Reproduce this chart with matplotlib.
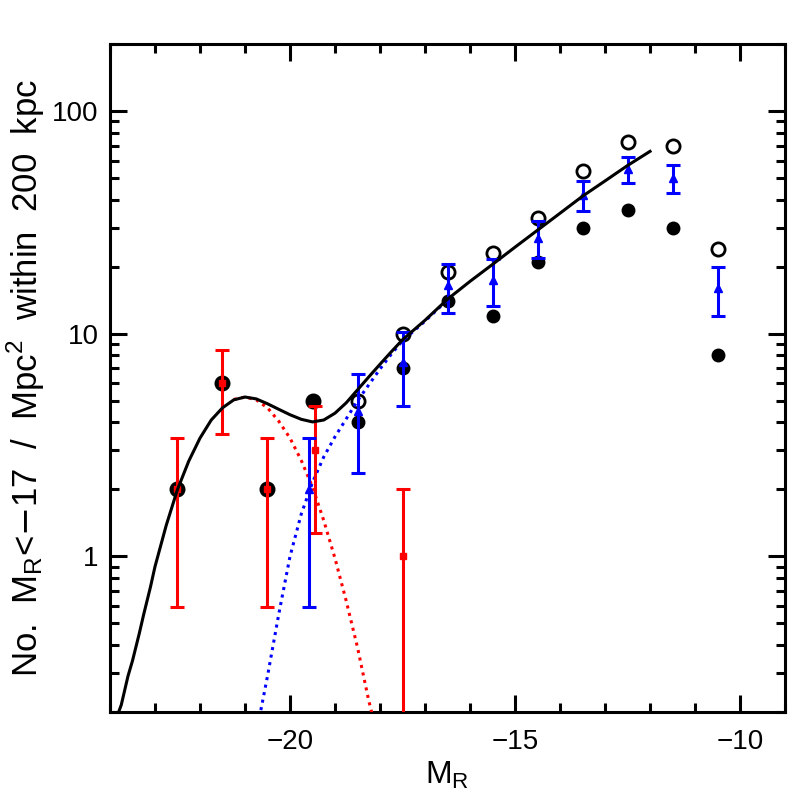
import matplotlib
matplotlib.use("Agg")
import matplotlib.pyplot as plt
from matplotlib.ticker import FixedLocator, MultipleLocator, LogLocator, NullFormatter, FuncFormatter

plt.rcParams['font.family'] = ['Liberation Sans', 'DejaVu Sans']

# counts per 1-mag bin
mag = [-22.5, -21.5, -20.5, -19.5, -18.5, -17.5, -16.5, -15.5, -14.5, -13.5, -12.5, -11.5, -10.5]
n_open = [2, 6, 2, 5, 5, 10, 19, 23, 33, 54, 73, 70, 24]
n_filled = [2, 6, 2, 5, 4, 7, 14, 12, 21, 30, 36, 30, 8]

# giants (red) and dwarfs (blue) with their errors
red_mag = [-22.5, -21.5, -20.5, -19.44, -17.5]
red_n = [2, 6, 2, 3, 1]
red_err = [1.41, 2.45, 1.41, 1.73, 1.0]

blue_mag = [-19.58, -18.5, -17.5, -16.5, -15.5, -14.5, -13.5, -12.5, -11.5, -10.5]
blue_n = [2, 4.5, 7.5, 16.5, 17.5, 27, 42, 55, 50, 16]
blue_err = [1.41, 2.12, 2.74, 4.06, 4.18, 5.2, 6.48, 7.42, 7.07, 4.0]

# fitted curves
fit_mag = [-23.85, -23.75, -23.6, -23.5, -23.35, -23.25, -23.1, -23.0, -22.75, -22.5,
           -22.25, -22.0, -21.75, -21.5, -21.25, -21.0, -20.75, -20.5, -20.25, -20.0,
           -19.75, -19.5, -19.25, -19.0, -18.75, -18.5, -18.25, -18.0, -17.75, -17.5,
           -17.25, -17.0, -16.5, -16.0, -15.5, -15.0, -14.5, -14.0, -13.5, -13.0,
           -12.5, -12.0]
fit_total = [0.19, 0.215, 0.29, 0.34, 0.45, 0.55, 0.73, 0.9, 1.38, 2.0,
             2.68, 3.4, 4.1, 4.65, 5.05, 5.2, 5.1, 4.85, 4.58, 4.33,
             4.13, 4.02, 4.1, 4.4, 4.9, 5.6, 6.4, 7.3, 8.3, 9.4,
             10.4, 11.5, 14.3, 17.2, 20.5, 24.5, 29.2, 34.8, 41.5, 48.6,
             57, 66]

giant_mag = [-21.25, -21.0, -20.75, -20.5, -20.25, -20.0, -19.75, -19.5, -19.25,
             -19.0, -18.75, -18.5, -18.25, -18.1]
giant_fit = [5.07, 5.2, 5.05, 4.65, 4.05, 3.4, 2.7, 2.05, 1.45,
             0.98, 0.63, 0.39, 0.225, 0.17]

dwarf_mag = [-20.8, -20.75, -20.5, -20.25, -20.0, -19.75, -19.5, -19.25, -19.0, -18.75,
             -18.5, -18.25, -18.0, -17.75, -17.5, -17.0, -16.5]
dwarf_fit = [0.15, 0.16, 0.29, 0.55, 1.0, 1.55, 2.15, 2.8, 3.45, 4.15,
             5.0, 5.9, 6.95, 8.1, 9.3, 11.4, 14.2]

fig = plt.figure(figsize=(7.97, 7.97), dpi=100)
ax = fig.add_axes([0.138, 0.1066, 0.847, 0.838])

ax.plot(giant_mag, giant_fit, color='red', lw=2.2, ls=(0, (1, 1.5)), zorder=3)
ax.plot(dwarf_mag, dwarf_fit, color='blue', lw=2.2, ls=(0, (1, 1.5)), zorder=3)
ax.plot(fit_mag, fit_total, color='black', lw=2.2, zorder=4)

ax.plot(mag, n_filled, 'o', color='black', ms=9, zorder=2)
ax.plot(mag, n_open, 'o', color='black', mfc='none', ms=9.5, mew=2.0, zorder=2)

ax.errorbar(red_mag, red_n, yerr=red_err, fmt='s', color='red', ms=5,
            elinewidth=2.2, capsize=5, capthick=2.2, zorder=3)
ax.errorbar(blue_mag, blue_n, yerr=blue_err, fmt='^', color='blue', ms=5.5,
            elinewidth=2.2, capsize=5, capthick=2.2, zorder=3)

ax.set_yscale('log')
ax.set_xlim(-24, -9)
ax.set_ylim(0.2, 200)

ax.xaxis.set_major_locator(FixedLocator([-20, -15, -10]))
ax.xaxis.set_minor_locator(MultipleLocator(1))
ax.yaxis.set_major_locator(FixedLocator([1, 10, 100]))
ax.yaxis.set_minor_locator(LogLocator(subs=range(2, 10)))
ax.yaxis.set_major_formatter(FuncFormatter(lambda v, p: '%g' % v))
ax.yaxis.set_minor_formatter(NullFormatter())

ax.tick_params(which='both', direction='in', top=True, right=True, width=2.2, labelsize=20)
ax.tick_params(which='major', length=12.5)
ax.tick_params(which='minor', length=6.5)
ax.tick_params(axis='x', pad=12)
ax.tick_params(axis='y', pad=8)
for s in ax.spines.values():
    s.set_linewidth(2.2)

ax.set_xlabel(r'$\mathregular{M_R}$', fontsize=23, labelpad=4)
ax.set_ylabel(r'No.  $\mathregular{M_R}$<$-$17  /  Mpc$^\mathregular{2}$  within  200  kpc',
              fontsize=25, labelpad=4)

fig.savefig('out.png', dpi=100)
